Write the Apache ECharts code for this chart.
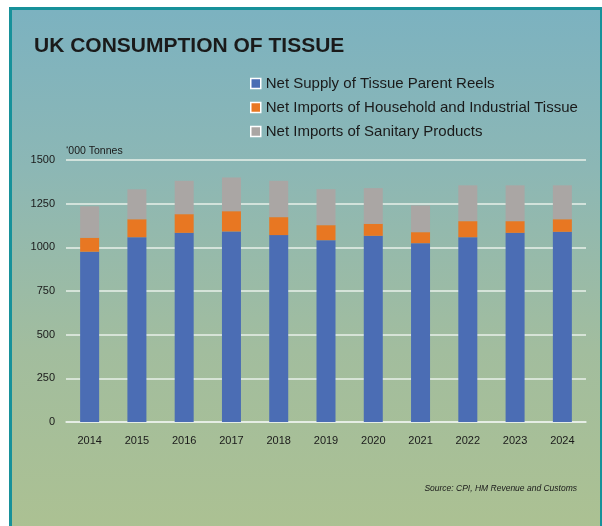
<!DOCTYPE html>
<html>
<head>
<meta charset="utf-8">
<title>UK Consumption of Tissue</title>
<script src="https://cdn.jsdelivr.net/npm/echarts@6/dist/echarts.min.js"></script>
<style>
  html, body { margin: 0; padding: 0; background: #ffffff; }
  #panel {
    position: absolute; left: 9px; top: 7px; width: 594px; height: 530px;
    box-sizing: border-box; border: 3px solid #17919a;
    background: linear-gradient(to bottom, #7cb2c0 0%, #8cb7b5 30%, #a2bd9e 65%, #acc192 100%);
  }
  #chart { position: absolute; left: 0; top: 0; width: 602px; height: 526px; }
</style>
</head>
<body>
<div id="panel"></div>
<div id="chart"></div>
<script>
// Years on the category axis
const years = ['2014', '2015', '2016', '2017', '2018', '2019', '2020', '2021', '2022', '2023', '2024'];

// Series names
const seriesNames = [
  'Net Supply of Tissue Parent Reels',
  'Net Imports of Household and Industrial Tissue',
  'Net Imports of Sanitary Products'
];

// Values in thousand tonnes
const parentReels = [975, 1058, 1083, 1091, 1070, 1041, 1066, 1024, 1058, 1083, 1089];
const householdIndustrial = [80, 103, 107, 116, 103, 86, 69, 63, 92, 67, 72];
const sanitary = [180, 171, 191, 193, 208, 206, 204, 153, 205, 205, 194];

// Value axis scale
const yMin = 0;
const yMax = 1500;
const yStep = 250;

const FONT = "'Liberation Sans', Arial, sans-serif";
const INK = '#1a1a1a';
const GRID_WHITE = '#e9f0ea';
const colors = ['#4b6db4', '#e87722', '#aaa6a4'];

const chart = echarts.init(document.getElementById('chart'), null, { renderer: 'canvas' });

const valueSets = [parentReels, householdIndustrial, sanitary];

chart.setOption({
  backgroundColor: 'transparent',
  animation: false,
  title: {
    text: 'UK CONSUMPTION OF TISSUE',
    left: 34,
    top: 36,
    padding: 0,
    textStyle: { fontFamily: FONT, fontSize: 21, fontWeight: 'bold', color: INK }
  },
  legend: {
    orient: 'vertical',
    left: 250,
    top: 76,
    padding: 0,
    itemWidth: 10,
    itemHeight: 10,
    itemGap: 9,
    icon: 'rect',
    selectedMode: false,
    data: seriesNames.map((n, i) => ({
      name: n,
      itemStyle: { color: colors[i], borderColor: '#ffffff', borderWidth: 1.5 }
    })),
    textStyle: { fontFamily: FONT, fontSize: 15, color: INK, lineHeight: 15, padding: [0, 0, 0, 0] }
  },
  grid: { left: 66, right: 16, top: 160, bottom: 104, containLabel: false },
  xAxis: {
    type: 'category',
    data: years,
    axisLine: { show: true, lineStyle: { color: GRID_WHITE, width: 1.5 } },
    axisTick: { show: false },
    axisLabel: { fontFamily: FONT, fontSize: 11, color: INK, margin: 13 }
  },
  yAxis: {
    type: 'value',
    min: yMin,
    max: yMax,
    interval: yStep,
    name: '\u2018000 Tonnes',
    nameLocation: 'end',
    nameGap: 3,
    nameTextStyle: { fontFamily: FONT, fontSize: 10.5, color: INK, align: 'left', verticalAlign: 'bottom' },
    axisLine: { show: false },
    axisTick: { show: false },
    axisLabel: {
      fontFamily: FONT, fontSize: 11, color: INK, margin: 11,
      formatter: (v) => String(v)
    },
    splitLine: { show: true, lineStyle: { color: GRID_WHITE, width: 1.5 } }
  },
  series: seriesNames.map((n, i) => ({
    name: n,
    type: 'bar',
    stack: 'total',
    barWidth: 19,
    data: valueSets[i],
    itemStyle: { color: colors[i] },
    emphasis: { disabled: true }
  })),
  graphic: [{
    type: 'text',
    right: 25,
    top: 484,
    style: {
      text: 'Source: CPI, HM Revenue and Customs',
      fontFamily: FONT,
      fontSize: 8.5,
      fontStyle: 'italic',
      fill: INK
    }
  }]
});
</script>
</body>
</html>
